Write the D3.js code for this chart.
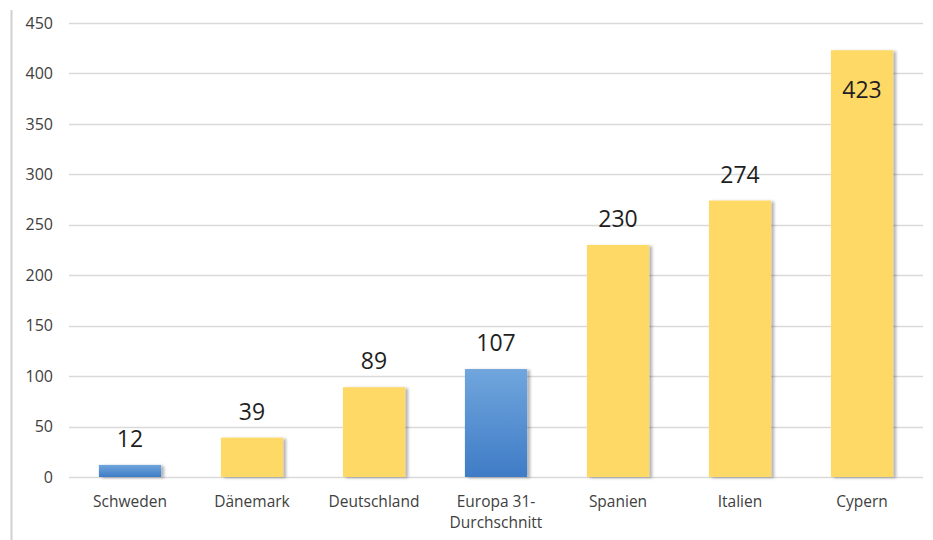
<!DOCTYPE html>
<html>
<head>
<meta charset="utf-8">
<script src="https://cdnjs.cloudflare.com/ajax/libs/d3/7.8.5/d3.min.js"></script>
<style>
  body { margin: 0; background: #fff; }
  svg { font-family: "Open Sans", "Noto Sans", sans-serif; }
</style>
</head>
<body>
<svg width="933" height="540"></svg>
<script>
// Data
var categories = ["Schweden", "Dänemark", "Deutschland", "Europa 31-\nDurchschnitt", "Spanien", "Italien", "Cypern"];
var values = [12, 39, 89, 107, 230, 274, 423];
var highlight = [true, false, false, true, false, false, false];
var yTicks = [0, 50, 100, 150, 200, 250, 300, 350, 400, 450];

var svg = d3.select("svg");

// left frame line
svg.append("line")
    .attr("x1", 11.5).attr("x2", 11.5)
    .attr("y1", 10).attr("y2", 540)
    .attr("stroke", "#d0d0d0").attr("stroke-width", 2);

var x = d3.scaleBand()
    .domain(categories)
    .range([69, 923])
    .paddingInner(0.49)
    .paddingOuter(0.245);

var y = d3.scaleLinear()
    .domain([0, 450])
    .range([477, 23]);

// Gradients / shadow
var defs = svg.append("defs");
var blue = defs.append("linearGradient").attr("id", "blueGrad")
    .attr("x1", 0).attr("y1", 0).attr("x2", 0).attr("y2", 1);
blue.append("stop").attr("offset", "0%").attr("stop-color", "#70a6dd");
blue.append("stop").attr("offset", "100%").attr("stop-color", "#3f7cc6");

var shadow = defs.append("filter").attr("id", "shadow")
    .attr("x", "-20%").attr("y", "-20%").attr("width", "150%").attr("height", "140%");
shadow.append("feDropShadow")
    .attr("dx", 3).attr("dy", 1).attr("stdDeviation", 1.4)
    .attr("flood-color", "#000").attr("flood-opacity", 0.3);

// Gridlines
svg.append("g").selectAll("line")
    .data(yTicks)
    .enter().append("line")
    .attr("x1", 69).attr("x2", 923)
    .attr("y1", function(d) { return Math.round(y(d)) + 0.5; })
    .attr("y2", function(d) { return Math.round(y(d)) + 0.5; })
    .attr("stroke", "#d9d9d9").attr("stroke-width", 1.5);

// Y axis labels
var yAxis = d3.axisLeft(y).tickValues(yTicks).tickSize(0).tickPadding(0);
var gy = svg.append("g").attr("transform", "translate(53,0)").call(yAxis);
gy.select(".domain").remove();
gy.selectAll("text")
    .attr("font-size", 16).attr("fill", "#404040")
    .style("font-family", "'Open Sans', 'Noto Sans', sans-serif");

// Bars
svg.append("g").selectAll("rect")
    .data(values)
    .enter().append("rect")
    .attr("x", function(d, i) { return x(categories[i]); })
    .attr("y", function(d) { return y(d); })
    .attr("width", x.bandwidth())
    .attr("height", function(d) { return y(0) - y(d); })
    .attr("fill", function(d, i) { return highlight[i] ? "url(#blueGrad)" : "#ffd966"; })
    .attr("filter", "url(#shadow)");

// Value labels
svg.append("g").selectAll("text")
    .data(values)
    .enter().append("text")
    .attr("x", function(d, i) { return x(categories[i]) + x.bandwidth() / 2; })
    .attr("y", function(d) {
        var top = y(d);
        return top - 26 < 25 ? top + 48 : top - 18;
    })
    .attr("text-anchor", "middle")
    .attr("font-size", 23)
    .attr("fill", "#1f1f1f")
    .text(function(d) { return d; });

// Category labels
var cat = svg.append("g").selectAll("text")
    .data(categories)
    .enter().append("text")
    .attr("x", function(d) { return x(d) + x.bandwidth() / 2; })
    .attr("y", 507)
    .attr("text-anchor", "middle")
    .attr("font-size", 15.5)
    .attr("fill", "#404040");

cat.each(function(d) {
    var lines = d.split("\n");
    var t = d3.select(this);
    lines.forEach(function(l, k) {
        t.append("tspan")
            .attr("x", t.attr("x"))
            .attr("dy", k === 0 ? 0 : 21)
            .text(l);
    });
});
</script>
</body>
</html>
